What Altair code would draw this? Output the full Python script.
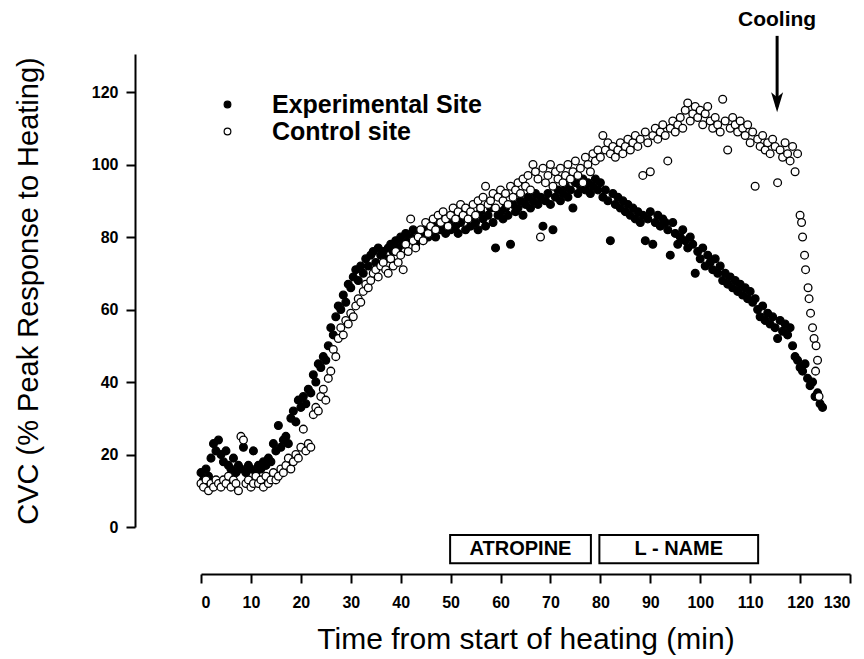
import altair as alt
import pandas as pd

# ---- data ----
exp_time = [0, 0.5, 1, 1.5, 2, 2.5, 3, 3.5, 4, 4.5, 5, 5.5, 6, 6.5, 7, 7.5, 8, 8.5, 9, 9.5,
            10, 10.5, 11, 11.5, 12, 12.5, 13, 13.5, 14, 14.5, 15, 15.5, 16, 16.5, 17, 17.5, 18, 18.5, 19, 19.5,
            20, 20.5, 21, 21.5, 22, 22.5, 23, 23.5, 24, 24.5, 25, 25.5, 26, 26.5, 27, 27.5, 28, 28.5, 29, 29.5,
            30, 30.5, 31, 31.5, 32, 32.5, 33, 33.5, 34, 34.5, 35, 35.5, 36, 36.5, 37, 37.5, 38, 38.5, 39, 39.5,
            40, 40.5, 41, 41.5, 42, 42.5, 43, 43.5, 44, 44.5, 45, 45.5, 46, 46.5, 47, 47.5, 48, 48.5, 49, 49.5,
            50, 50.5, 51, 51.5, 52, 52.5, 53, 53.5, 54, 54.5, 55, 55.5, 56, 56.5, 57, 57.5, 58, 58.5, 59, 59.5,
            60, 60.5, 61, 61.5, 62, 62.5, 63, 63.5, 64, 64.5, 65, 65.5, 66, 66.5, 67, 67.5, 68, 68.5, 69, 69.5,
            70, 70.5, 71, 71.5, 72, 72.5, 73, 73.5, 74, 74.5, 75, 75.5, 76, 76.5, 77, 77.5, 78, 78.5, 79, 79.5,
            80, 80.5, 81, 81.5, 82, 82.5, 83, 83.5, 84, 84.5, 85, 85.5, 86, 86.5, 87, 87.5, 88, 88.5, 89, 89.5,
            90, 90.5, 91, 91.5, 92, 92.5, 93, 93.5, 94, 94.5, 95, 95.5, 96, 96.5, 97, 97.5, 98, 98.5, 99, 99.5,
            100, 100.5, 101, 101.5, 102, 102.5, 103, 103.5, 104, 104.5, 105, 105.5, 106, 106.5, 107, 107.5, 108, 108.5, 109, 109.5,
            110, 110.5, 111, 111.5, 112, 112.5, 113, 113.5, 114, 114.5, 115, 115.5, 116, 116.5, 117, 117.5, 118, 118.5, 119, 119.5,
            120, 120.5, 121, 121.5, 122, 122.5, 123, 123.5, 124, 124.5]
exp_cvc = [15, 13, 16, 14, 19, 23, 21, 24, 20, 18, 21, 17, 16, 19, 15, 17, 16, 22, 15, 17,
           16, 21, 15, 17, 16, 18, 17, 19, 18, 23, 21, 28, 22, 24, 25, 23, 30, 32, 29, 35,
           33, 36, 34, 38, 37, 42, 40, 45, 44, 47, 46, 50, 55, 53, 58, 61, 60, 64, 62, 67,
           66, 69, 71, 68, 72, 70, 74, 72, 75, 76, 73, 77, 75, 76, 74, 77, 78, 76, 79, 77,
           80, 78, 81, 79, 80, 82, 78, 80, 81, 79, 82, 80, 83, 81, 80, 84, 82, 83, 81, 84,
           82, 85, 83, 81, 84, 86, 82, 85, 83, 86, 84, 82, 87, 85, 83, 86, 88, 84, 77, 86,
           87, 85, 88, 86, 78, 89, 87, 88, 90, 86, 89, 91, 88, 90, 92, 89, 91, 83, 90, 92,
           89, 82, 91, 93, 90, 92, 94, 91, 93, 88, 95, 92, 94, 96, 93, 95, 92, 94, 96, 93,
           95, 91, 93, 90, 79, 92, 89, 91, 88, 90, 87, 89, 86, 88, 85, 87, 84, 86, 79, 85,
           87, 78, 84, 86, 83, 85, 84, 82, 75, 84, 81, 78, 80, 82, 79, 77, 80, 78, 70, 76,
           74, 77, 72, 75, 73, 71, 74, 70, 72, 68, 70, 67, 69, 66, 68, 65, 67, 64, 66, 63,
           65, 62, 63, 60, 58, 61, 57, 59, 56, 58, 55, 52, 57, 54, 56, 53, 55, 50, 47, 46,
           44, 43, 45, 41, 39, 40, 36, 37, 34, 33]

ctrl_time = [0, 0.5, 1, 1.5, 2, 2.5, 3, 3.5, 4, 4.5, 5, 5.5, 6, 6.5, 7, 7.5, 8, 8.5, 9, 9.5,
             10, 10.5, 11, 11.5, 12, 12.5, 13, 13.5, 14, 14.5, 15, 15.5, 16, 16.5, 17, 17.5, 18, 18.5, 19, 19.5,
             20, 20.5, 21, 21.5, 22, 22.5, 23, 23.5, 24, 24.5, 25, 25.5, 26, 26.5, 27, 27.5, 28, 28.5, 29, 29.5,
             30, 30.5, 31, 31.5, 32, 32.5, 33, 33.5, 34, 34.5, 35, 35.5, 36, 36.5, 37, 37.5, 38, 38.5, 39, 39.5,
             40, 40.5, 41, 41.5, 42, 42.5, 43, 43.5, 44, 44.5, 45, 45.5, 46, 46.5, 47, 47.5, 48, 48.5, 49, 49.5,
             50, 50.5, 51, 51.5, 52, 52.5, 53, 53.5, 54, 54.5, 55, 55.5, 56, 56.5, 57, 57.5, 58, 58.5, 59, 59.5,
             60, 60.5, 61, 61.5, 62, 62.5, 63, 63.5, 64, 64.5, 65, 65.5, 66, 66.5, 67, 67.5, 68, 68.5, 69, 69.5,
             70, 70.5, 71, 71.5, 72, 72.5, 73, 73.5, 74, 74.5, 75, 75.5, 76, 76.5, 77, 77.5, 78, 78.5, 79, 79.5,
             80, 80.5, 81, 81.5, 82, 82.5, 83, 83.5, 84, 84.5, 85, 85.5, 86, 86.5, 87, 87.5, 88, 88.5, 89, 89.5,
             90, 90.5, 91, 91.5, 92, 92.5, 93, 93.5, 94, 94.5, 95, 95.5, 96, 96.5, 97, 97.5, 98, 98.5, 99, 99.5,
             100, 100.5, 101, 101.5, 102, 102.5, 103, 103.5, 104, 104.5, 105, 105.5, 106, 106.5, 107, 107.5, 108, 108.5, 109, 109.5,
             110, 110.5, 111, 111.5, 112, 112.5, 113, 113.5, 114, 114.5, 115, 115.5, 116, 116.5, 117, 117.5, 118, 118.5, 119, 119.5,
             120.0, 120.3, 120.5, 120.9, 121.1, 121.6, 121.8, 122.1, 122.5, 122.8, 123.2, 123.5, 123.1, 123.8]
ctrl_cvc = [12, 11, 13, 10, 12, 11, 13, 12, 11, 13, 12, 14, 11, 13, 12, 10, 25, 24, 12, 13,
            11, 12, 14, 12, 13, 11, 14, 12, 13, 15, 13, 14, 16, 15, 17, 19, 16, 18, 20, 19,
            22, 27, 21, 23, 22, 31, 33, 32, 36, 38, 35, 41, 43, 49, 47, 52, 55, 53, 57, 56,
            59, 58, 61, 63, 62, 65, 67, 66, 68, 70, 71, 69, 72, 73, 71, 70, 74, 72, 76, 73,
            75, 71, 78, 76, 85, 79, 77, 80, 82, 79, 84, 81, 83, 85, 82, 86, 84, 87, 85, 83,
            86, 88, 85, 87, 89, 86, 88, 85, 87, 89, 86, 90, 88, 91, 94, 89, 90, 92, 88, 91,
            93, 90, 92, 89, 94, 91, 93, 95, 92, 96, 94, 97, 93, 100, 98, 96, 80, 99, 95, 97,
            100, 94, 98, 96, 99, 95, 97, 100, 96, 98, 101, 97, 99, 95, 102, 100, 98, 103, 101, 104,
            102, 108, 104, 106, 103, 105, 102, 104, 106, 103, 105, 107, 104, 106, 108, 105, 107, 97, 109, 106,
            98, 108, 110, 107, 109, 111, 108, 101, 110, 112, 109, 111, 113, 110, 115, 117, 112, 114, 116, 113,
            115, 111, 114, 116, 112, 110, 113, 111, 109, 118, 112, 104, 110, 113, 111, 109, 112, 110, 108, 111,
            106, 109, 94, 107, 105, 108, 104, 106, 103, 107, 105, 95, 104, 102, 106, 103, 101, 105, 98, 103,
            86, 84, 80, 75, 71, 66, 63, 59, 55, 52, 50, 46, 43, 36]

series_names = ["Experimental Site", "Control site"]
y_ticks = [0, 20, 40, 60, 80, 100, 120]
x_ticks = [0, 10, 20, 30, 40, 50, 60, 70, 80, 90, 100, 110, 120, 130]

drug_names = ["ATROPINE", "L - NAME"]
drug_start = [49.9, 79.8]
drug_end = [78.1, 111.6]
drug_low = [-10.0, -10.0]
drug_high = [-2.2, -2.2]

cooling_time = [115.4]
cooling_label = ["Cooling"]
arrow_top = [135.5]
arrow_tip = [116.0]
arrowhead_center = [117.2]
label_level = [139.8]

# ---- tables ----
pts = pd.concat([
    pd.DataFrame({"time": exp_time, "cvc": exp_cvc, "site": series_names[0]}),
    pd.DataFrame({"time": ctrl_time, "cvc": ctrl_cvc, "site": series_names[1]}),
], ignore_index=True)
drugs = pd.DataFrame({"name": drug_names, "start": drug_start, "end": drug_end,
                      "low": drug_low, "high": drug_high})
drugs["mid"] = (drugs["start"] + drugs["end"]) / 2
drugs["ymid"] = (drugs["low"] + drugs["high"]) / 2
cool = pd.DataFrame({"time": cooling_time, "label": cooling_label, "top": arrow_top,
                     "tip": arrow_tip, "head": arrowhead_center, "lab": label_level})

FONT = "Liberation Sans"
xscale = alt.Scale(domain=[0, 130], nice=False, zero=False)
yscale = alt.Scale(domain=[0, 130.5], nice=False, zero=False)

x_axis = alt.Axis(values=x_ticks, offset=47, tickSize=9, tickWidth=2, domainWidth=2,
                  domainColor="black", tickColor="black", labelFont=FONT, labelFontWeight="bold",
                  labelFontSize=16, labelColor="black", labelPadding=11, grid=False,
                  title="Time from start of heating (min)", titleFont=FONT,
                  titleFontWeight="normal", titleFontSize=30, titleColor="black",
                  titlePadding=14)
y_axis = alt.Axis(values=y_ticks, offset=66, tickSize=9, tickWidth=2, domainWidth=2,
                  domainColor="black", tickColor="black", labelFont=FONT, labelFontWeight="bold",
                  labelFontSize=16, labelColor="black", labelPadding=8, grid=False,
                  title="CVC (% Peak Response to Heating)", titleFont=FONT,
                  titleFontWeight="normal", titleFontSize=29, titleColor="black",
                  titlePadding=48)

points = alt.Chart(pts).mark_point(filled=True, size=60, stroke="black", strokeWidth=1.3, opacity=1).encode(
    x=alt.X("time:Q", scale=xscale, axis=x_axis),
    y=alt.Y("cvc:Q", scale=yscale, axis=y_axis),
    fill=alt.Fill("site:N", scale=alt.Scale(domain=series_names, range=["black", "white"]),
                  legend=alt.Legend(title=None, orient="none", legendX=14, legendY=38,
                                    labelFont=FONT, labelFontWeight="bold", labelFontSize=25,
                                    labelColor="black", labelOffset=32, labelLimit=0,
                                    symbolType="circle",
                                    symbolSize=45, symbolStrokeColor="black", symbolStrokeWidth=1.2,
                                    rowPadding=1, padding=0)),
    order=alt.Order("ord:Q"),
).transform_calculate(ord="datum.site == 'Experimental Site' ? 0 : 1")

boxes = alt.Chart(drugs).mark_rect(fill="white", stroke="black", strokeWidth=2).encode(
    x=alt.X("start:Q", scale=xscale, axis=x_axis), x2="end:Q",
    y=alt.Y("low:Q", scale=yscale, axis=y_axis), y2="high:Q")
box_text = alt.Chart(drugs).mark_text(font=FONT, fontWeight="bold", fontSize=20, color="black",
                                      baseline="middle").encode(
    x=alt.X("mid:Q", scale=xscale, axis=x_axis), y=alt.Y("ymid:Q", scale=yscale, axis=y_axis),
    text="name:N")

shaft = alt.Chart(cool).mark_rule(strokeWidth=3, color="black").encode(
    x=alt.X("time:Q", scale=xscale, axis=x_axis), y=alt.Y("top:Q", scale=yscale, axis=y_axis),
    y2="tip:Q")
head = alt.Chart(cool).mark_point(filled=True, color="black", opacity=1, size=400,
                                  shape="M-0.6,-1L0,1L0.6,-1L0,-0.5Z").encode(
    x=alt.X("time:Q", scale=xscale, axis=x_axis), y=alt.Y("head:Q", scale=yscale, axis=y_axis))
cool_text = alt.Chart(cool).mark_text(font=FONT, fontWeight="bold", fontSize=21, color="black",
                                      baseline="middle").encode(
    x=alt.X("time:Q", scale=xscale, axis=x_axis), y=alt.Y("lab:Q", scale=yscale, axis=y_axis),
    text="label:N")

chart = alt.layer(points, boxes, box_text, shaft, head, cool_text).properties(
    width=649, height=473,
    autosize=alt.AutoSizeParams(type="none"),
    padding={"left": 201, "top": 54, "right": 14, "bottom": 132},
    background="white",
).configure_view(stroke=None)

chart.save("out.html", embed_options={"renderer": "svg", "actions": False})
